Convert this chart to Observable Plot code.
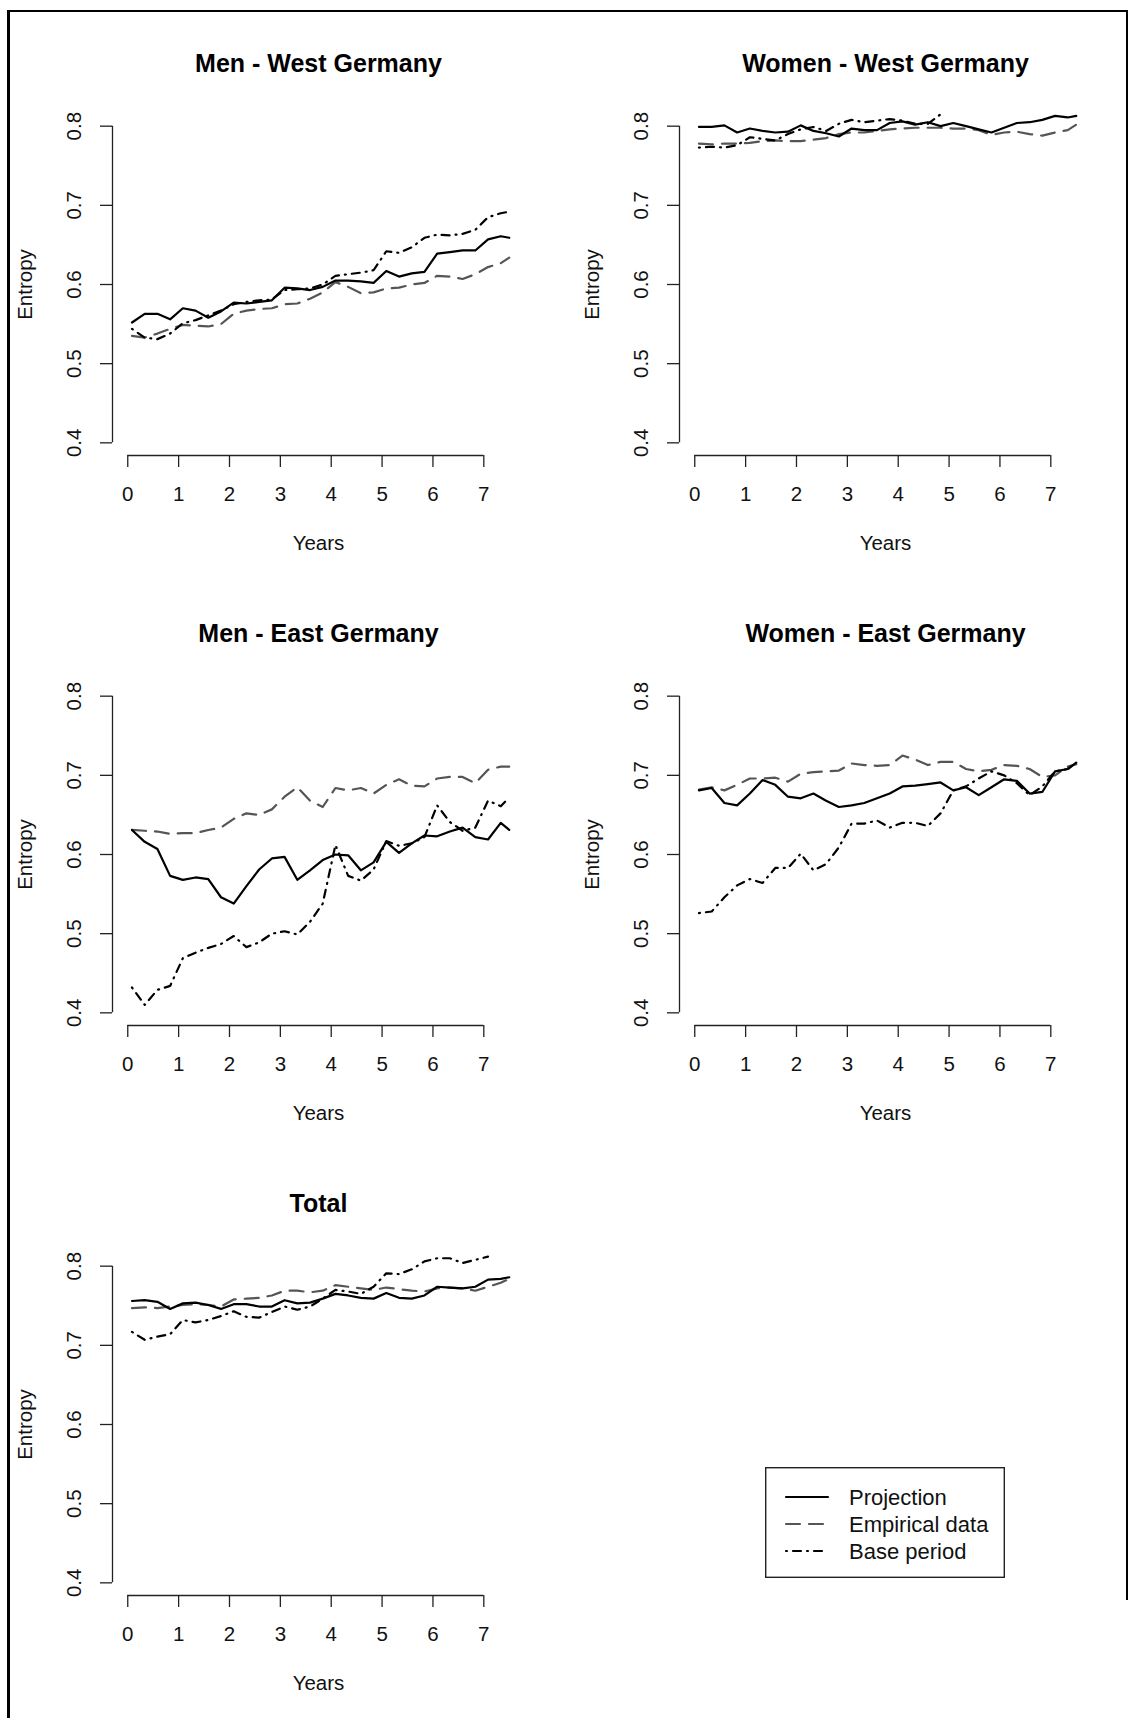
<!DOCTYPE html>
<html><head><meta charset="utf-8">
<script src="https://cdn.jsdelivr.net/npm/d3@7"></script>
<script src="https://cdn.jsdelivr.net/npm/@observablehq/plot@0.6"></script>
<style>
body{margin:0;background:#fff;}
#page{position:relative;width:1134px;height:1718px;overflow:hidden;font-family:"Liberation Sans",Arial,sans-serif;background:#fff;}
.panel{position:absolute;}
#frame{position:absolute;left:7px;top:10px;width:1121px;height:1590px;border-left:2.6px solid #000;border-top:2.6px solid #000;border-right:2.6px solid #000;box-sizing:border-box;}
#frameLeft{position:absolute;left:7px;top:10px;width:2.6px;height:1720px;background:#000;}
#legend{position:absolute;left:765px;top:1467px;}
</style></head><body><div id="page"><div id="frame"></div><div id="frameLeft"></div></div>
<script>
// time grid (years)
const years = [0.083, 0.333, 0.583, 0.833, 1.083, 1.333, 1.583, 1.833, 2.083, 2.333, 2.583, 2.833, 3.083, 3.333, 3.583, 3.833, 4.083, 4.333, 4.583, 4.833, 5.083, 5.333, 5.583, 5.833, 6.083, 6.333, 6.583, 6.833, 7.083, 7.333, 7.5];
const xTicks = [0, 1, 2, 3, 4, 5, 6, 7];
const yTicks = [0.4, 0.5, 0.6, 0.7, 0.8];
const xLimits = [0, 7.5];
const yLimits = [0.4, 0.8];
const seriesNames = ["Projection", "Empirical data", "Base period"];
const panelTitles = ["Men - West Germany", "Women - West Germany", "Men - East Germany", "Women - East Germany", "Total"];

// Men - West Germany
const mwProj = [0.552,0.563,0.563,0.556,0.570,0.567,0.558,0.566,0.577,0.576,0.578,0.580,0.596,0.595,0.593,0.597,0.605,0.605,0.604,0.602,0.617,0.610,0.614,0.616,0.639,0.641,0.643,0.643,0.657,0.661,0.659];
const mwEmp  = [0.535,0.533,0.538,0.544,0.549,0.548,0.547,0.550,0.563,0.567,0.569,0.570,0.575,0.576,0.582,0.590,0.603,0.597,0.589,0.590,0.595,0.596,0.600,0.602,0.611,0.610,0.607,0.613,0.622,0.627,0.634];
const mwBase = [0.544,0.533,0.531,0.538,0.551,0.555,0.561,0.567,0.575,0.578,0.580,0.581,0.593,0.594,0.595,0.600,0.611,0.613,0.615,0.618,0.642,0.640,0.647,0.659,0.663,0.662,0.664,0.669,0.685,0.690,0.692];

// Women - West Germany
const wwProj = [0.799,0.799,0.801,0.792,0.797,0.794,0.792,0.793,0.801,0.794,0.791,0.787,0.797,0.795,0.795,0.804,0.806,0.802,0.805,0.800,0.804,0.800,0.796,0.792,0.798,0.804,0.805,0.808,0.813,0.811,0.813];
const wwEmp  = [0.778,0.777,0.778,0.778,0.779,0.781,0.782,0.781,0.781,0.783,0.785,0.790,0.792,0.792,0.794,0.796,0.797,0.798,0.798,0.798,0.797,0.797,0.795,0.789,0.792,0.793,0.790,0.788,0.792,0.795,0.802];
const wwBase = [0.773,0.774,0.773,0.776,0.786,0.784,0.782,0.790,0.796,0.799,0.794,0.803,0.808,0.805,0.807,0.809,0.807,0.803,0.803,0.815,null,null,null,null,null,null,null,null,null,null,null];

// Men - East Germany
const meProj = [0.631,0.616,0.607,0.573,0.568,0.571,0.569,0.546,0.538,0.560,0.581,0.595,0.597,0.568,0.580,0.593,0.600,0.599,0.580,0.590,0.616,0.602,0.614,0.624,0.623,0.629,0.634,0.622,0.619,0.640,0.631];
const meEmp  = [0.631,0.630,0.629,0.626,0.627,0.627,0.631,0.634,0.645,0.652,0.650,0.657,0.673,0.685,0.668,0.660,0.684,0.681,0.684,0.677,0.688,0.695,0.687,0.686,0.696,0.698,0.698,0.690,0.707,0.711,0.711];
const meBase = [0.432,0.410,0.429,0.434,0.469,0.476,0.482,0.487,0.497,0.483,0.489,0.500,0.503,0.499,0.515,0.538,0.612,0.573,0.567,0.581,0.617,0.611,0.614,0.622,0.662,0.641,0.630,0.634,0.668,0.661,0.672];

// Women - East Germany
const weProj = [0.681,0.684,0.665,0.662,0.677,0.694,0.688,0.673,0.671,0.677,0.668,0.660,0.662,0.665,0.671,0.677,0.686,0.687,0.689,0.691,0.681,0.685,0.675,0.685,0.695,0.693,0.677,0.679,0.705,0.708,0.716];
const weEmp  = [0.682,0.685,0.681,0.688,0.696,0.696,0.697,0.692,0.702,0.704,0.705,0.706,0.715,0.713,0.712,0.713,0.725,0.720,0.713,0.717,0.717,0.708,0.705,0.707,0.713,0.712,0.708,0.698,0.700,0.711,0.714];
const weBase = [0.526,0.528,0.546,0.561,0.569,0.564,0.583,0.583,0.601,0.580,0.588,0.609,0.639,0.639,0.643,0.634,0.640,0.640,0.636,0.652,0.681,0.686,0.696,0.705,0.700,0.690,0.675,0.686,0.705,0.708,0.716];

// Total
const totProj = [0.756,0.757,0.755,0.746,0.753,0.754,0.751,0.746,0.752,0.752,0.749,0.749,0.757,0.753,0.754,0.759,0.765,0.763,0.760,0.759,0.766,0.760,0.759,0.763,0.774,0.773,0.772,0.774,0.783,0.784,0.786];
const totEmp  = [0.747,0.748,0.747,0.749,0.751,0.752,0.751,0.749,0.758,0.759,0.760,0.763,0.769,0.769,0.767,0.769,0.776,0.774,0.772,0.770,0.773,0.771,0.769,0.768,0.772,0.773,0.772,0.769,0.774,0.779,0.784];
const totBase = [0.717,0.707,0.711,0.714,0.732,0.729,0.732,0.737,0.743,0.736,0.735,0.742,0.749,0.745,0.749,0.759,0.770,0.768,0.765,0.774,0.791,0.790,0.796,0.806,0.810,0.810,0.804,0.808,0.812,null,null];

const panelSeries = [
  [mwProj, mwEmp, mwBase],
  [wwProj, wwEmp, wwBase],
  [meProj, meEmp, meBase],
  [weProj, weEmp, weBase],
  [totProj, totEmp, totBase]
];

// styles
const lineStyles = {
  "Projection":     {stroke: "#000", strokeWidth: 2.2},
  "Empirical data": {stroke: "#555", strokeWidth: 2.2, strokeDasharray: "14,9"},
  "Base period":    {stroke: "#000", strokeWidth: 2.2, strokeDasharray: "1,6,8,6"}
};
const FONT = '"Liberation Sans", Arial, sans-serif';
const PW = 567, PH = 570;
const TICK_FS = 20.5, LABEL_FS = 20.5, TITLE_FS = 25;

// R-style 4% axis extension
function ext(l) { const r = (l[1] - l[0]) * 0.04; return [l[0] - r, l[1] + r]; }
const xDom = ext(xLimits), yDom = ext(yLimits);

const page = document.getElementById("page");

panelTitles.forEach((title, p) => {
  const col = p % 2, row = Math.floor(p / 2);
  const rows = seriesNames.map((s, k) =>
    years.map((t, i) => ({t, v: panelSeries[p][k][i], s})).filter(d => d.v != null));
  const lineMarks = [1, 2, 0].map(k =>
    Plot.line(rows[k], {x: "t", y: "v", strokeLinejoin: "round", strokeLinecap: "round", ...lineStyles[seriesNames[k]]}));
  const chart = Plot.plot({
    width: PW, height: PH,
    marginTop: 113, marginBottom: 115, marginLeft: 112, marginRight: 43,
    x: {domain: xDom},
    y: {domain: yDom},
    style: {fontFamily: FONT, fontSize: TICK_FS + "px", background: "transparent", overflow: "visible", color: "#111"},
    marks: [
      Plot.ruleX([xDom[0]], {y1: yTicks[0], y2: yTicks[yTicks.length - 1], stroke: "#222", strokeWidth: 1.3}),
      Plot.ruleY([yDom[0]], {x1: xTicks[0], x2: xTicks[xTicks.length - 1], stroke: "#222", strokeWidth: 1.3}),
      Plot.axisX({ticks: xTicks, tickSize: 12, tickPadding: 19, label: null, strokeWidth: 1.3, stroke: "#222", fontSize: TICK_FS, tickFormat: d => String(d)}),
      Plot.axisY({ticks: yTicks, tickSize: 12, tickPadding: 20, tickRotate: -90, label: null, strokeWidth: 1.3, stroke: "#222", fontSize: TICK_FS, tickFormat: d => d.toFixed(1)}),
      ...lineMarks,
      Plot.text([title], {text: d => d, frameAnchor: "top", lineAnchor: "middle", dy: -50, fontSize: TITLE_FS, fontWeight: "bold", fill: "#000"}),
      Plot.text(["Years"], {text: d => d, frameAnchor: "bottom", lineAnchor: "middle", dy: 88, fontSize: LABEL_FS}),
      Plot.text(["Entropy"], {text: d => d, frameAnchor: "left", textAnchor: "middle", lineAnchor: "middle", dx: -87, rotate: -90, fontSize: LABEL_FS})
    ]
  });
  chart.classList.add("panel");
  chart.style.left = (col * PW) + "px";
  chart.style.top = (row * PH) + "px";
  chart.style.position = "absolute";
  page.appendChild(chart);
});

// Legend (box in the empty sixth slot)
const legendW = 240, legendH = 111;
const lg = d3.create("svg").attr("id", "legend").attr("width", legendW).attr("height", legendH)
  .style("position", "absolute").style("left", "765px").style("top", "1467px")
  .style("font-family", FONT);
lg.append("rect").attr("x", 0.7).attr("y", 0.7).attr("width", legendW - 1.4).attr("height", legendH - 1.4)
  .attr("fill", "#fff").attr("stroke", "#222").attr("stroke-width", 1.4);
const rowsY = [30, 57, 84];
seriesNames.forEach((s, i) => {
  const st = lineStyles[s];
  lg.append("line").attr("x1", 21).attr("x2", 63).attr("y1", rowsY[i]).attr("y2", rowsY[i])
    .attr("stroke", st.stroke).attr("stroke-width", st.strokeWidth)
    .attr("stroke-dasharray", st.strokeDasharray || null).attr("stroke-linecap", "round");
  lg.append("text").attr("x", 84).attr("y", rowsY[i] + 8).attr("font-size", 22).attr("fill", "#111").text(s);
});
page.appendChild(lg.node());
</script>
</body></html>
